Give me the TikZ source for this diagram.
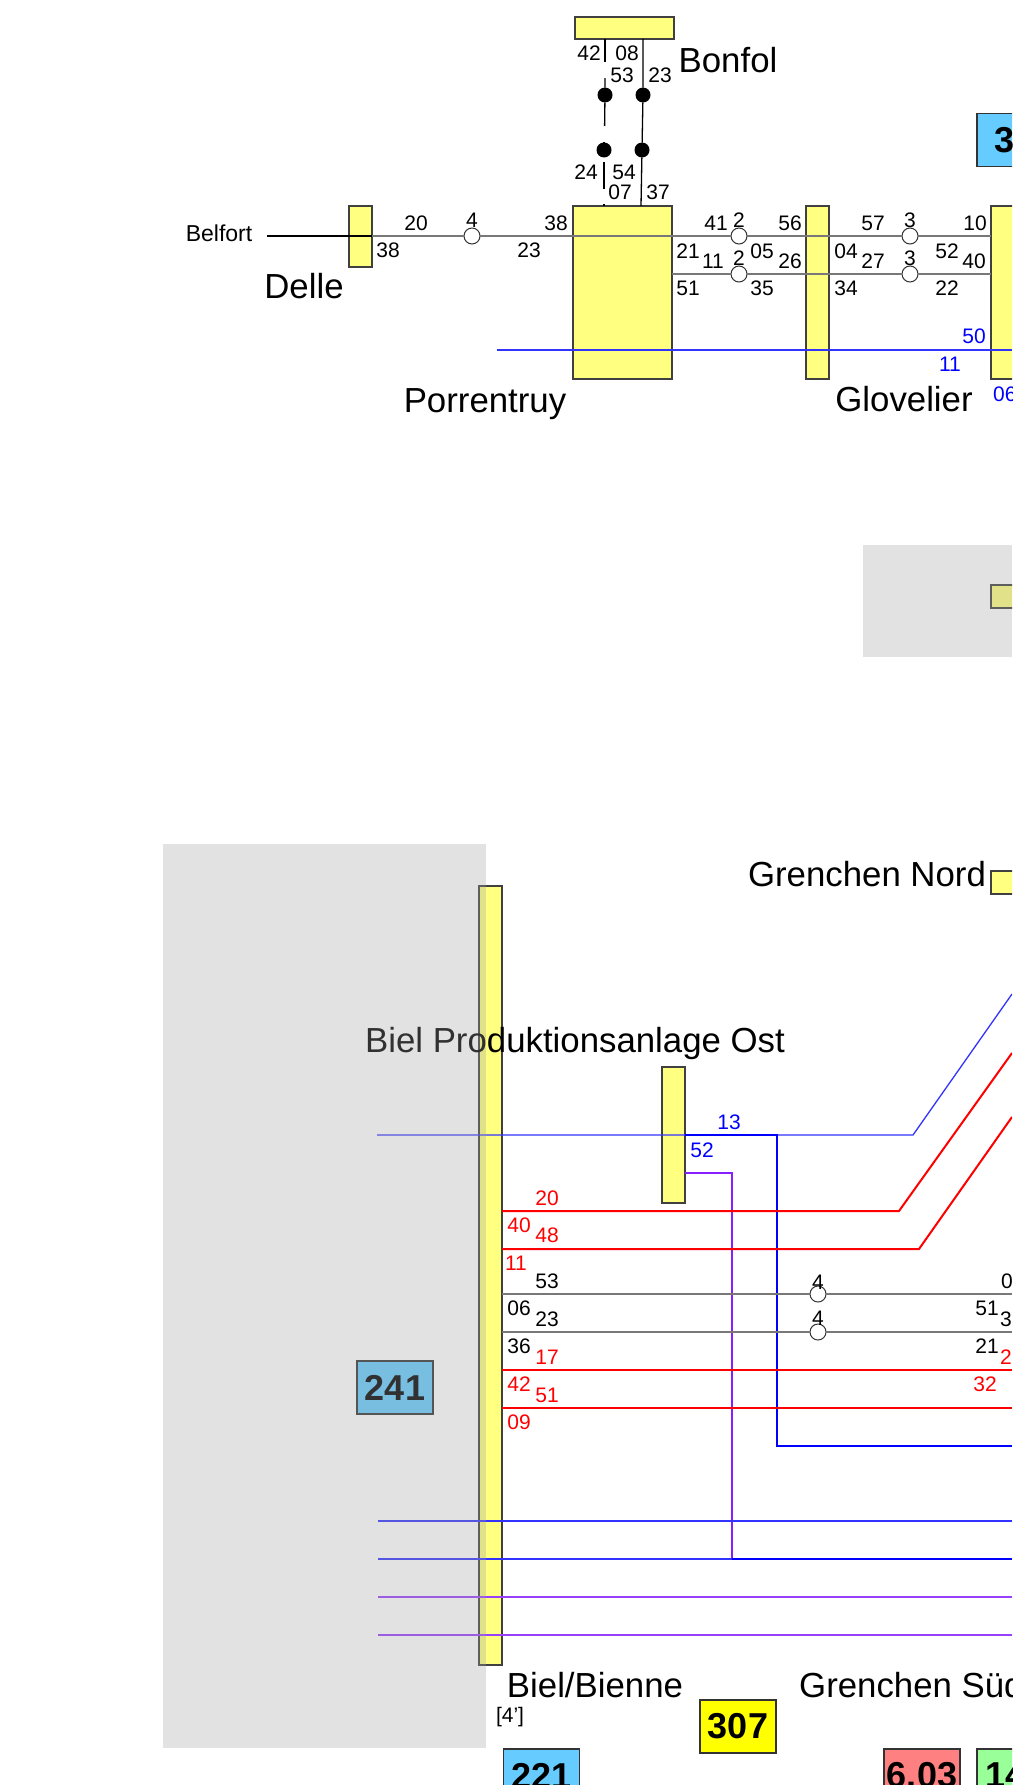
\documentclass[tikz,border=0pt]{standalone}
\usepackage{fontspec}
\setmainfont{Liberation Sans}
\definecolor{stationyellow}{RGB}{255,255,128}
\definecolor{blockblue}{RGB}{102,204,255}
\definecolor{blockyellow}{RGB}{255,255,0}
\definecolor{blockred}{RGB}{255,128,128}
\definecolor{blockgreen}{RGB}{153,255,153}
\definecolor{trackgray}{RGB}{120,120,120}
\definecolor{trackpurple}{RGB}{135,30,255}
\definecolor{shadegray}{RGB}{161,161,161}
\begin{document}
\begin{tikzpicture}[x=1pt,y=-1pt]
  \tikzstyle{station}=[rectangle,draw=black!75,fill=stationyellow,line width=1.2pt,inner sep=0,outer sep=0]
  \tikzstyle{stop}=[circle,draw=black!80,fill=white,line width=1pt,minimum size=16pt,inner sep=0,outer sep=0]
  \tikzstyle{dot}=[circle,fill=black,minimum size=15pt,inner sep=0,outer sep=0]
  \tikzstyle{block}=[rectangle,draw=black!80,line width=1.5pt,minimum width=76pt,minimum height=53pt,inner sep=0,outer sep=0,font=\fontsize{36}{40}\selectfont\bfseries]
  \tikzstyle{blocktext}=[inner sep=0,font=\fontsize{36}{40}\selectfont\bfseries]
  \tikzstyle{place}=[inner sep=0,font=\fontsize{34.8}{38}\selectfont]
  \tikzstyle{num}=[inner sep=0,font=\fontsize{21}{23}\selectfont]
  \tikzstyle{numred}=[num,text=red]
  \tikzstyle{numblue}=[num,text=blue]
  \tikzstyle{grayline}=[draw=trackgray,line width=1.4pt]
  \tikzstyle{blackline}=[draw=black,line width=1.3pt]
  \tikzstyle{blueline}=[draw=blue!80,line width=1.3pt]
  \tikzstyle{bluethick}=[draw=blue,line width=1.8pt]
  \tikzstyle{redline}=[draw=red,line width=2pt]
  \tikzstyle{purpleline}=[draw=trackpurple,line width=1.4pt]
  \tikzstyle{purplethick}=[draw=trackpurple!85,line width=2pt]
  \useasboundingbox (0,0) rectangle (1012,1785);
  \clip (0,0) rectangle (1012,1785);

  \node[station,minimum width=99pt,minimum height=22pt] (S_bonfol) at (624.5,28) {};
  \node[station,minimum width=23pt,minimum height=61pt] (S_delle) at (360.5,236.5) {};
  \node[station,minimum width=99pt,minimum height=173pt] (S_porrentruy) at (622.5,292.5) {};
  \node[station,minimum width=23pt,minimum height=173pt] (S_glovelier) at (817.5,292.5) {};
  \node[station,minimum width=99pt,minimum height=173pt] (S_east) at (1040.5,292.5) {};
  \node[station,minimum width=99pt,minimum height=23pt] (S_shaded) at (1040.5,596.5) {};
  \node[station,minimum width=99pt,minimum height=23pt] (S_nord) at (1040.5,882.5) {};
  \node[station,minimum width=23pt,minimum height=779pt] (S_biel) at (490.5,1275.5) {};
  \node[station,minimum width=23pt,minimum height=136pt] (S_ost) at (673.5,1135) {};

  \node[block,fill=blockblue] (B_3) at (1015,140) {};
  \node[blocktext,anchor=west] (T_3) at (994,140) {3};
  \node[block,fill=blockblue] (B_241) at (395,1387.5) {241};
  \node[block,fill=blockyellow] (B_307) at (738,1726.5) {307};
  \node[block,fill=blockblue] (B_221) at (541.5,1775.5) {221};
  \node[block,fill=blockred] (B_603) at (922,1775.5) {6.03};
  \node[block,fill=blockgreen] (B_14) at (1015,1775.5) {};
  \node[blocktext,anchor=west] (T_14) at (985,1775.5) {14};

  \node[stop] (C_1) at (472,236) {};
  \node[stop] (C_2) at (739,236) {};
  \node[stop] (C_3) at (910,236) {};
  \node[stop] (C_4) at (739,274) {};
  \node[stop] (C_5) at (910,274) {};
  \node[stop] (C_6) at (818,1294) {};
  \node[stop] (C_7) at (818,1332) {};
  \node[dot] (D_1) at (605,95) {};
  \node[dot] (D_2) at (643,95) {};
  \node[dot] (D_3) at (604,150) {};
  \node[dot] (D_4) at (642,150) {};

  \coordinate (P_1) at (267,236);
  \coordinate (P_2) at (372,236);
  \coordinate (P_3) at (991,236);
  \coordinate (P_4) at (672,274);
  \coordinate (P_5) at (991,274);
  \coordinate (P_6) at (497,350);
  \coordinate (P_7) at (1012,350);
  \coordinate (Q_1) at (605,39);
  \coordinate (Q_2) at (605,62);
  \coordinate (Q_3) at (605,78);
  \coordinate (Q_4) at (604.6,126);
  \coordinate (Q_5) at (604,142);
  \coordinate (Q_6) at (604,162);
  \coordinate (Q_7) at (604,189);
  \coordinate (Q_8) at (604,204);
  \coordinate (Q_9) at (604,206);
  \coordinate (Q_10) at (643,39);
  \coordinate (Q_11) at (641,206);
  \coordinate (R_1) at (377,1135);
  \coordinate (R_2) at (913,1135);
  \coordinate (R_3) at (1012,994);
  \coordinate (R_4) at (685,1135);
  \coordinate (R_5) at (777,1135);
  \coordinate (R_6) at (777,1446);
  \coordinate (R_7) at (1012,1446);
  \coordinate (R_8) at (685,1173);
  \coordinate (R_9) at (732,1173);
  \coordinate (R_10) at (732,1559);
  \coordinate (R_11) at (1012,1559);
  \coordinate (R_12) at (378,1559);
  \coordinate (R_13) at (378,1521);
  \coordinate (R_14) at (1012,1521);
  \coordinate (R_15) at (378,1597);
  \coordinate (R_16) at (1012,1597);
  \coordinate (R_17) at (378,1635);
  \coordinate (R_18) at (1012,1635);
  \coordinate (V_1) at (502,1211);
  \coordinate (V_2) at (899,1211);
  \coordinate (V_3) at (1012,1053);
  \coordinate (V_4) at (502,1249);
  \coordinate (V_5) at (919,1249);
  \coordinate (V_6) at (1012,1117);
  \coordinate (V_7) at (502,1370);
  \coordinate (V_8) at (1012,1370);
  \coordinate (V_9) at (502,1408);
  \coordinate (V_10) at (1012,1408);
  \coordinate (V_11) at (502,1294);
  \coordinate (V_12) at (1012,1294);
  \coordinate (V_13) at (502,1332);
  \coordinate (V_14) at (1012,1332);

  \draw[blackline] (P_1) -- (P_2);
  \draw[grayline] (P_2) -- (C_1) -- (C_2) -- (C_3) -- (P_3);
  \draw[grayline] (P_4) -- (C_4) -- (C_5) -- (P_5);
  \draw[blueline] (P_6) -- (P_7);
  \draw[blackline] (Q_1) -- (Q_2);
  \draw[blackline] (Q_3) -- (D_1) -- (Q_4);
  \draw[blackline] (Q_5) -- (D_3);
  \draw[blackline] (Q_6) -- (Q_7);
  \draw[blackline] (Q_8) -- (Q_9);
  \draw[blackline] (Q_10) -- (D_2) -- (D_4) -- (Q_11);

  \draw[blueline] (R_1) -- (R_2) -- (R_3);
  \draw[bluethick] (R_4) -- (R_5) -- (R_6) -- (R_7);
  \draw[purpleline] (R_8) -- (R_9) -- (R_10);
  \draw[blueline] (R_12) -- (R_10);
  \draw[bluethick] (R_10) -- (R_11);
  \draw[blueline] (R_13) -- (R_14);
  \draw[purplethick] (R_15) -- (R_16);
  \draw[purplethick] (R_17) -- (R_18);
  \draw[redline] (V_1) -- (V_2) -- (V_3);
  \draw[redline] (V_4) -- (V_5) -- (V_6);
  \draw[redline] (V_7) -- (V_8);
  \draw[redline] (V_9) -- (V_10);
  \draw[grayline] (V_11) -- (C_6) -- (V_12);
  \draw[grayline] (V_13) -- (C_7) -- (V_14);

  \node[place,anchor=base] (L_bonfol) at (728,72) {Bonfol};
  \node[place,anchor=base] (L_delle) at (304,298) {Delle};
  \node[place,anchor=base] (L_porrentruy) at (485,412) {Porrentruy};
  \node[place,anchor=base] (L_glovelier) at (904,411) {Glovelier};
  \node[place,anchor=base] (L_nord) at (867,886) {Grenchen Nord};
  \node[place,anchor=base] (L_ost) at (575,1052) {Biel Produktionsanlage Ost};
  \node[place,anchor=base] (L_biel) at (595,1697) {Biel/Bienne};
  \node[place,anchor=base west] (L_sued) at (799,1697) {Grenchen Süd};
  \node[inner sep=0,font=\fontsize{23}{25}\selectfont] (L_belfort) at (219,233) {Belfort};
  \node[num] (L_4) at (510,1717) {[4']};

  \node[num] (N_1) at (589,53) {42};
  \node[num] (N_2) at (627,53) {08};
  \node[num] (N_3) at (622,75) {53};
  \node[num] (N_4) at (660,75) {23};
  \node[num] (N_5) at (586,172) {24};
  \node[num] (N_6) at (624,172) {54};
  \node[num] (N_7) at (620,192) {07};
  \node[num] (N_8) at (658,192) {37};
  \node[num] (N_9) at (416,223) {20};
  \node[num] (N_10) at (472,220) {4};
  \node[num] (N_11) at (388,250) {38};
  \node[num] (N_12) at (529,250) {23};
  \node[num] (N_13) at (556,223) {38};
  \node[num] (N_14) at (716,223) {41};
  \node[num] (N_15) at (739,220) {2};
  \node[num] (N_16) at (790,223) {56};
  \node[num] (N_17) at (688,251) {21};
  \node[num] (N_18) at (762,251) {05};
  \node[num] (N_19) at (846,251) {04};
  \node[num] (N_20) at (713,261) {11};
  \node[num] (N_21) at (739,258) {2};
  \node[num] (N_22) at (790,261) {26};
  \node[num] (N_23) at (873,261) {27};
  \node[num] (N_24) at (910,258) {3};
  \node[num] (N_25) at (910,220) {3};
  \node[num] (N_26) at (873,223) {57};
  \node[num] (N_27) at (975,223) {10};
  \node[num] (N_28) at (947,251) {52};
  \node[num] (N_29) at (974,261) {40};
  \node[num] (N_30) at (688,288) {51};
  \node[num] (N_31) at (762,288) {35};
  \node[num] (N_32) at (846,288) {34};
  \node[num] (N_33) at (947,288) {22};
  \node[numblue] (N_34) at (974,336) {50};
  \node[numblue] (N_35) at (950,364) {11};
  \node[numblue,anchor=west] (N_36) at (993,394) {06};

  \node[numblue] (N_37) at (729,1122) {13};
  \node[numblue] (N_38) at (702,1150) {52};
  \node[numred] (N_39) at (547,1198) {20};
  \node[numred] (N_40) at (519,1225) {40};
  \node[numred] (N_41) at (547,1235) {48};
  \node[numred] (N_42) at (516,1263) {11};
  \node[num] (N_43) at (547,1281) {53};
  \node[num] (N_44) at (519,1308) {06};
  \node[num] (N_45) at (547,1319) {23};
  \node[num] (N_46) at (519,1346) {36};
  \node[numred] (N_47) at (547,1357) {17};
  \node[numred] (N_48) at (519,1384) {42};
  \node[numred] (N_49) at (547,1395) {51};
  \node[numred] (N_50) at (519,1422) {09};
  \node[num] (N_51) at (818,1282) {4};
  \node[num] (N_52) at (818,1318) {4};
  \node[num,anchor=west] (N_53) at (1001,1281) {0};
  \node[num] (N_54) at (987,1308) {51};
  \node[num,anchor=west] (N_55) at (1000,1319) {3};
  \node[num] (N_56) at (987,1346) {21};
  \node[numred,anchor=west] (N_57) at (1000,1357) {2};
  \node[numred] (N_58) at (985,1384) {32};

  \fill[shadegray,opacity=.31] (863,545) rectangle (1012,657);
  \fill[shadegray,opacity=.31] (163,844) rectangle (486,1748);
\end{tikzpicture}
\end{document}
